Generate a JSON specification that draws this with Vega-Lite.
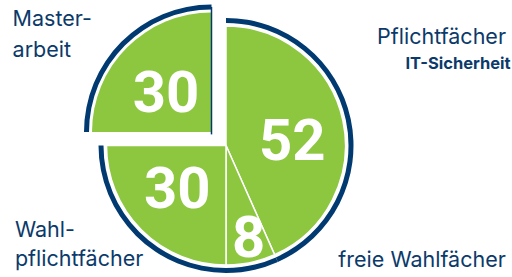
{
  "$schema": "https://vega.github.io/schema/vega-lite/v6.json",
  "width": 452,
  "height": 263,
  "autosize": {"type": "none"},
  "padding": {"left": 0, "top": 14, "right": 60, "bottom": 0},
  "background": "white",
  "view": {"stroke": null},
  "data": {
    "values": [
      {"idx": 1, "cat": "pflicht", "value": 52, "label": "Pflichtfächer", "sub": "IT-Sicherheit"},
      {"idx": 2, "cat": "frei", "value": 8, "label": "freie Wahlfächer", "sub": ""},
      {"idx": 3, "cat": "wahlpflicht", "value": 30, "label": "Wahl-\npflichtfächer", "sub": ""},
      {"idx": 4, "cat": "master", "value": 30, "label": "Master-\narbeit", "sub": ""}
    ]
  },
  "encoding": {
    "theta": {"field": "value", "type": "quantitative", "stack": true},
    "order": {"field": "idx", "type": "quantitative", "sort": "ascending"}
  },
  "layer": [
    {
      "mark": {"type": "arc", "fill": "#8DC63F", "stroke": "white", "strokeWidth": 1.5, "outerRadius": 119.5, "innerRadius": 0},
      "encoding": {"opacity": {"condition": {"test": "datum.cat === 'master'", "value": 0}, "value": 1}}
    },
    {
      "mark": {"type": "arc", "fill": "#003A70", "outerRadius": 127.5, "innerRadius": 122.5},
      "encoding": {"opacity": {"condition": {"test": "datum.cat === 'master'", "value": 0}, "value": 1}}
    },
    {
      "mark": {"type": "arc", "fill": "#8DC63F", "outerRadius": 119.5, "innerRadius": 0, "xOffset": -14.5, "yOffset": -13.5},
      "encoding": {"opacity": {"condition": {"test": "datum.cat === 'master'", "value": 1}, "value": 0}}
    },
    {
      "mark": {"type": "arc", "fill": "#003A70", "outerRadius": 127.5, "innerRadius": 122.5, "xOffset": -14.5, "yOffset": -13.5},
      "encoding": {"opacity": {"condition": {"test": "datum.cat === 'master'", "value": 1}, "value": 0}}
    },
    {
      "mark": {"type": "arc", "fill": null, "stroke": "#003A70", "strokeWidth": 1.5, "outerRadius": 127.5, "innerRadius": 0, "strokeDash": [0, 327.8, 127.5, 800], "xOffset": -14.5, "yOffset": -11},
      "encoding": {"opacity": {"condition": {"test": "datum.cat === 'master'", "value": 1}, "value": 0}}
    },
    {
      "mark": {"type": "text", "font": "Roboto", "fontWeight": "bold", "fontSize": 58, "fill": "white", "align": "center", "baseline": "middle", "radius": 64.7, "dx": 3, "dy": 11},
      "encoding": {"text": {"condition": {"test": "datum.cat === 'pflicht'", "field": "value", "type": "quantitative"}, "value": ""}}
    },
    {
      "mark": {"type": "text", "font": "Roboto", "fontWeight": "bold", "fontSize": 58, "fill": "white", "align": "center", "baseline": "middle", "radius": 64.7, "dx": -3, "dy": 0},
      "encoding": {"text": {"condition": {"test": "datum.cat === 'wahlpflicht'", "field": "value", "type": "quantitative"}, "value": ""}}
    },
    {
      "mark": {"type": "text", "font": "Roboto", "fontWeight": "bold", "fontSize": 58, "fill": "white", "align": "center", "baseline": "middle", "radius": 94, "dx": 3, "dy": 2.5},
      "encoding": {"text": {"condition": {"test": "datum.cat === 'frei'", "field": "value", "type": "quantitative"}, "value": ""}}
    },
    {
      "mark": {"type": "text", "font": "Roboto", "fontWeight": "bold", "fontSize": 58, "fill": "white", "align": "center", "baseline": "middle", "radius": 60.7, "xOffset": -14.5, "yOffset": -13.5, "dx": -2.6, "dy": 5.6},
      "encoding": {"text": {"condition": {"test": "datum.cat === 'master'", "field": "value", "type": "quantitative"}, "value": ""}}
    },
    {
      "mark": {"type": "text", "font": "Inter", "fontSize": 21.5, "fill": "#0B3A6A", "align": "right", "baseline": "alphabetic", "radius": 293, "dx": -6.6, "dy": -40.6},
      "encoding": {"text": {"condition": {"test": "datum.cat === 'pflicht'", "field": "label", "type": "nominal"}, "value": ""}}
    },
    {
      "mark": {"type": "text", "font": "Inter", "fontSize": 16.5, "fontWeight": "bold", "fill": "#0B3A6A", "align": "right", "baseline": "alphabetic", "radius": 293, "dx": -2, "dy": -15.6},
      "encoding": {"text": {"condition": {"test": "datum.cat === 'pflicht'", "field": "sub", "type": "nominal"}, "value": ""}}
    },
    {
      "mark": {"type": "text", "font": "Inter", "fontSize": 21.5, "fill": "#0B3A6A", "align": "right", "baseline": "alphabetic", "radius": 177, "dx": 243, "dy": -51.6},
      "encoding": {"text": {"condition": {"test": "datum.cat === 'frei'", "field": "label", "type": "nominal"}, "value": ""}}
    },
    {
      "mark": {"type": "text", "font": "Inter", "fontSize": 21.5, "fill": "#0B3A6A", "align": "left", "baseline": "alphabetic", "radius": 150, "dx": -105, "dy": -14.6, "lineBreak": "\n", "lineHeight": 29},
      "encoding": {"text": {"condition": {"test": "datum.cat === 'wahlpflicht'", "field": "label", "type": "nominal"}, "value": ""}}
    },
    {
      "mark": {"type": "text", "font": "Inter", "fontSize": 21.5, "fill": "#0B3A6A", "align": "left", "baseline": "alphabetic", "radius": 200, "dx": -72, "dy": 21.9, "lineBreak": "\n", "lineHeight": 31},
      "encoding": {"text": {"condition": {"test": "datum.cat === 'master'", "field": "label", "type": "nominal"}, "value": ""}}
    }
  ]
}
